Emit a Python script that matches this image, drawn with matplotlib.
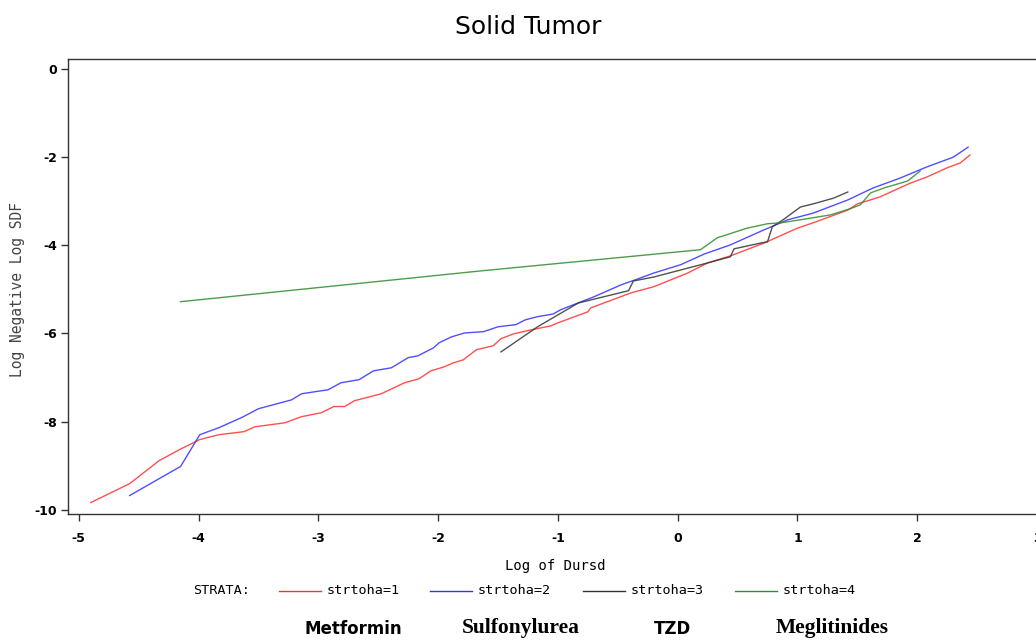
import matplotlib.pyplot as plt
from matplotlib.lines import Line2D

# strtoha=1 (Metformin)
x1 = [-4.90, -4.575, -4.33, -4.16, -3.99, -3.83, -3.62, -3.53, -3.28, -3.14, -2.975, -2.87, -2.78, -2.70,
      -2.475, -2.28, -2.16, -2.06, -1.95, -1.875, -1.79, -1.68, -1.54, -1.475, -1.37, -1.225, -1.06, -1.0,
      -0.75, -0.725, -0.39, -0.20, 0.083, 0.25, 0.44, 0.72, 1.0, 1.13, 1.42, 1.5, 1.69, 1.94, 2.08, 2.25,
      2.36, 2.44]
y1 = [-9.84, -9.41, -8.89, -8.64, -8.41, -8.30, -8.23, -8.12, -8.03, -7.89, -7.80, -7.66, -7.66, -7.53,
      -7.37, -7.12, -7.03, -6.85, -6.76, -6.67, -6.60, -6.37, -6.28, -6.12, -6.01, -5.92, -5.83, -5.76,
      -5.51, -5.42, -5.08, -4.94, -4.63, -4.40, -4.24, -3.95, -3.61, -3.49, -3.20, -3.06, -2.90, -2.59,
      -2.45, -2.24, -2.13, -1.95]

# strtoha=2 (Sulfonylurea)
x2 = [-4.575, -4.15, -3.99, -3.83, -3.64, -3.5, -3.225, -3.14, -2.92, -2.81, -2.66, -2.54, -2.39, -2.25,
      -2.17, -2.04, -1.99, -1.89, -1.78, -1.62, -1.5, -1.35, -1.27, -1.17, -1.04, -0.975, -0.70, -0.475,
      -0.33, -0.20, 0.025, 0.22, 0.44, 0.72, 0.92, 1.13, 1.42, 1.63, 1.86, 2.08, 2.30, 2.425]
y2 = [-9.68, -9.02, -8.30, -8.14, -7.91, -7.71, -7.51, -7.37, -7.28, -7.12, -7.05, -6.85, -6.78, -6.55,
      -6.51, -6.33, -6.21, -6.08, -5.99, -5.96, -5.85, -5.80, -5.69, -5.62, -5.56, -5.46, -5.17, -4.90,
      -4.76, -4.63, -4.44, -4.20, -3.99, -3.65, -3.42, -3.27, -2.97, -2.70, -2.47, -2.22, -2.00, -1.77]

# strtoha=3 (TZD)
x3 = [-1.475, -1.17, -0.83, -0.41, -0.37, -0.20, 0.025, 0.25, 0.44, 0.47, 0.69, 0.75, 0.79, 0.88, 1.025,
      1.13, 1.3, 1.42]
y3 = [-6.42, -5.85, -5.31, -5.03, -4.81, -4.72, -4.56, -4.40, -4.26, -4.08, -3.95, -3.92, -3.58, -3.42,
      -3.13, -3.06, -2.93, -2.79]

# strtoha=4 (Meglitinides)
x4 = [-4.15, -1.64, 0.19, 0.33, 0.58, 0.75, 0.86, 1.025, 1.275, 1.44, 1.525, 1.61, 1.72, 1.92, 2.025]
y4 = [-5.28, -4.58, -4.10, -3.83, -3.61, -3.51, -3.49, -3.42, -3.31, -3.17, -3.08, -2.81, -2.70, -2.54, -2.31]

strata = ['strtoha=1', 'strtoha=2', 'strtoha=3', 'strtoha=4']
colors = ['#ff3030', '#3030ff', '#333333', '#2e8b2e']
drugs = ['Metformin', 'Sulfonylurea', 'TZD', 'Meglitinides']

W, H = 1036, 643
fig = plt.figure(figsize=(W / 100, H / 100), dpi=100)
ax = fig.add_axes([68 / W, 1 - 514 / H, (1049 - 68) / W, (514 - 59) / H])

for xs, ys, c in zip([x1, x2, x3, x4], [y1, y2, y3, y4], colors):
    ax.plot(xs, ys, color=c, linewidth=1.0, alpha=0.85)

ax.set_xlim(-5.09, 3.1)
ax.set_ylim(-10.1, 0.23)
ax.set_xticks(range(-5, 4))
ax.set_yticks(range(-10, 1, 2))
ax.set_xticklabels([str(v) for v in range(-5, 4)], fontweight='bold', fontsize=9)
ax.set_yticklabels([str(v) for v in range(-10, 1, 2)], fontweight='bold', fontsize=9)
ax.tick_params(direction='out', length=5, width=1, color='#333333', pad=8)
ax.tick_params(axis='y', pad=3)
for s in ax.spines.values():
    s.set_color('#333333')
    s.set_linewidth(1.0)

fig.text(528 / W, 1 - 27 / H, 'Solid Tumor', ha='center', va='center', fontsize=18)
fig.text(18 / W, 1 - 290 / H, 'Log Negative Log SDF', rotation=90, ha='center', va='center',
         family='DejaVu Sans Mono', fontsize=10.5, color='#444444')
fig.text(555 / W, 1 - 566 / H, 'Log of Dursd', ha='center', va='center',
         family='DejaVu Sans Mono', fontsize=10)

# legend row
ly = 1 - 591 / H
fig.text(193 / W, ly, 'STRATA:', ha='left', va='center', family='DejaVu Sans Mono', fontsize=9.7)
starts = [279, 430, 583, 735]
for x0, lab, c in zip(starts, strata, colors):
    fig.add_artist(Line2D([x0 / W, (x0 + 42) / W], [ly, ly], color=c, linewidth=1.0))
    fig.text((x0 + 48) / W, ly, lab, ha='left', va='center', family='DejaVu Sans Mono', fontsize=9.7)

# drug names
dy = 1 - 629 / H
fig.text(353 / W, dy, drugs[0], ha='center', va='center', family='Liberation Sans Narrow',
         fontweight='bold', fontsize=12)
fig.text(521 / W, dy + 0.002, drugs[1], ha='center', va='center', family='Liberation Serif',
         fontweight='bold', fontsize=15.5)
fig.text(672 / W, dy, drugs[2], ha='center', va='center', family='Liberation Sans Narrow',
         fontweight='bold', fontsize=12)
fig.text(832 / W, dy + 0.002, drugs[3], ha='center', va='center', family='Liberation Serif',
         fontweight='bold', fontsize=15.5)

plt.savefig('out.png', dpi=100)
